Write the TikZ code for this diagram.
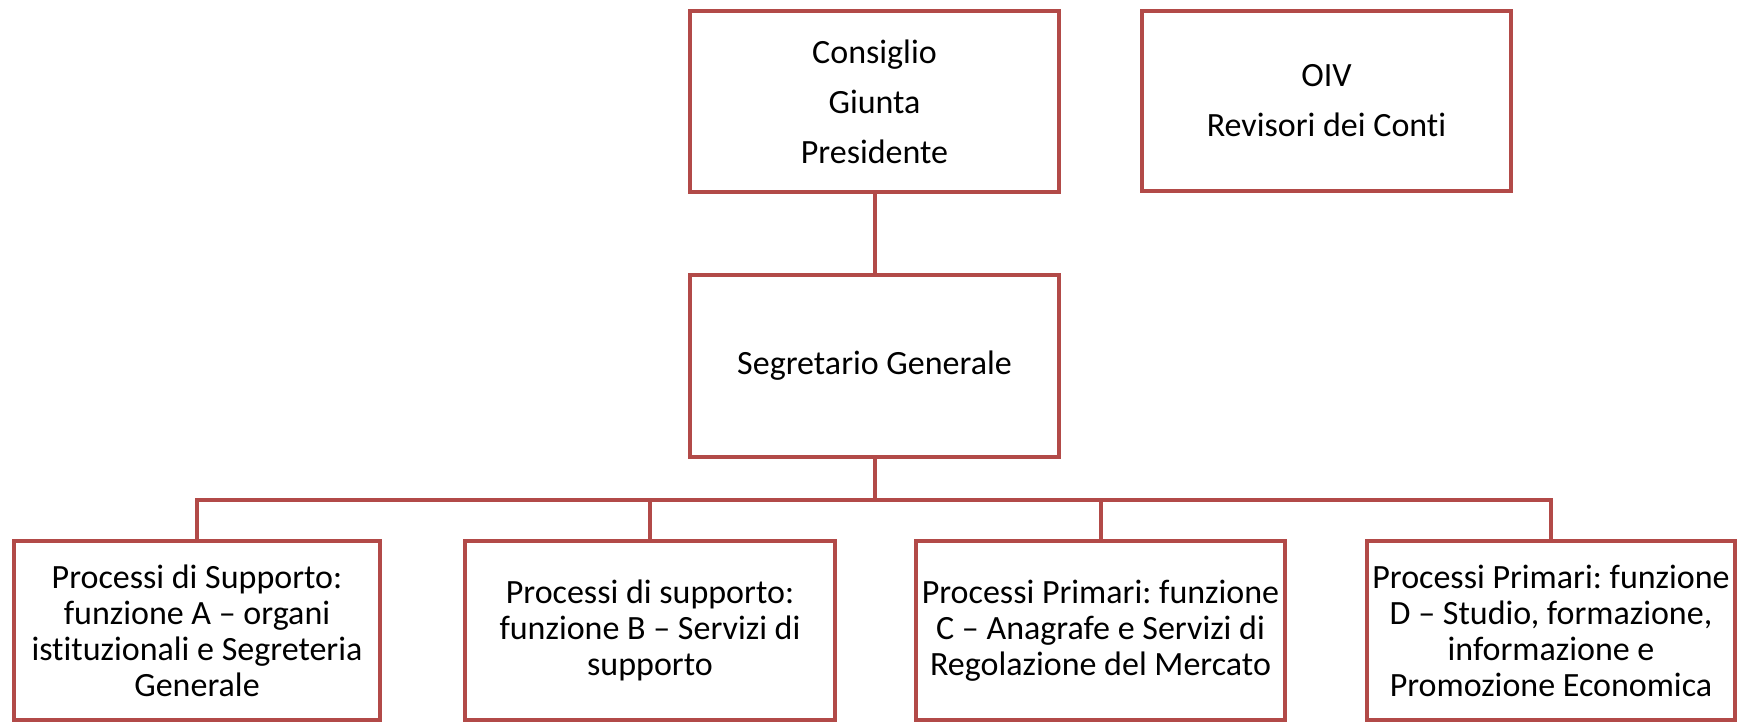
\documentclass[tikz,border=0pt]{standalone}
\usepackage{fontspec}
\setmainfont{Carlito}[Ligatures={NoCommon}]
\definecolor{boxred}{RGB}{178,74,72}
\frenchspacing
\begin{document}
\begin{tikzpicture}[x=1pt,y=-1pt,
  orgbox/.style={draw=boxred, line width=4pt, fill=white, rectangle, inner sep=0pt, align=center, font=\fontsize{34}{36}\selectfont},
  topbox/.style={orgbox, font=\fontsize{34}{50}\selectfont},
  link/.style={draw=boxred, line width=4pt}]
\useasboundingbox (0,0) rectangle (1752,725);
\node[topbox, minimum width=369pt, minimum height=181pt] (cons) at (874.5,101.5) {Consiglio\\Giunta\\Presidente};
\node[topbox, minimum width=369pt, minimum height=180pt] (oiv) at (1326.5,101) {OIV\\Revisori dei Conti};
\node[orgbox, minimum width=369pt, minimum height=182pt] (seg) at (874.5,366) {Segretario Generale};
\node[orgbox, minimum width=366pt, minimum height=179pt] (fa) at (197,630.5) {Processi di Supporto:\\funzione A -- organi\\istituzionali e Segreteria\\Generale};
\node[orgbox, minimum width=370pt, minimum height=179pt] (fb) at (650,630.5) {Processi di supporto:\\funzione B -- Servizi di\\supporto};
\node[orgbox, minimum width=369pt, minimum height=179pt] (fc) at (1100.5,630.5) {Processi Primari: funzione\\C -- Anagrafe e Servizi di\\Regolazione del Mercato};
\node[orgbox, minimum width=368pt, minimum height=179pt] (fd) at (1551,630.5) {Processi Primari: funzione\\D -- Studio, formazione,\\informazione e\\Promozione Economica};
\draw[link] (cons.south) -- (seg.north);
\draw[link] (seg.south) -- ++(0,41) -| (fa.north);
\draw[link] (seg.south) -- ++(0,41) -| (fb.north);
\draw[link] (seg.south) -- ++(0,41) -| (fc.north);
\draw[link] (seg.south) -- ++(0,41) -| (fd.north);
\end{tikzpicture}
\end{document}
